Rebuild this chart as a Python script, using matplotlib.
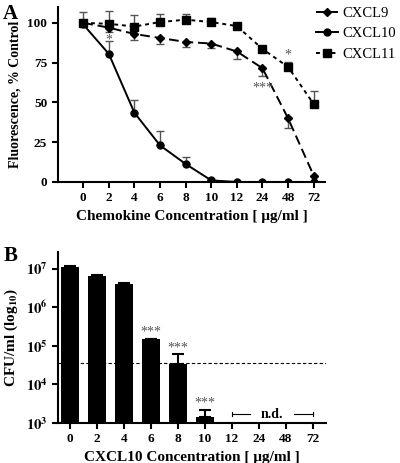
import matplotlib
matplotlib.use('Agg')
import matplotlib.pyplot as plt
import numpy as np

# panel A: fluorescence vs chemokine concentration
conc_labels = ['0', '2', '4', '6', '8', '10', '12', '24', '48', '72']
cxcl9 = [100, 97, 93, 90.5, 88, 87, 82, 71.5, 40, 4]
cxcl9_err = [0, 3, 3.7, 3.5, 3, 3, 5, 5, 6, 0]
cxcl10 = [99, 80.5, 43.5, 23, 11.3, 1, 0, 0, 0, 0]
cxcl10_err = [2, 8, 8, 9, 4.7, 0, 0, 0, 0, 0]
cxcl11 = [100, 99.4, 97.7, 100.5, 102, 100.5, 98, 83.6, 72.3, 49]
cxcl11_err = [7, 8, 7, 5, 3.5, 2.5, 1.5, 0, 3.2, 8]

# panel B: CFU/ml vs CXCL10 concentration
cfu = [1.13e7, 6.6e6, 4.1e6, 1.5e5, 3.3e4, 1.4e3, 0, 0, 0, 0]
cfu_err = [3e5, 2e5, 1e5, 0, 2.7e4, 8e2, 0, 0, 0, 0]
detect_limit = 3.5e4

plt.rcParams['font.family'] = ['Liberation Serif', 'DejaVu Serif']
plt.rcParams['mathtext.fontset'] = 'stix'

fig = plt.figure(figsize=(4, 4.63), dpi=100)
ax1 = fig.add_axes([0.144, 0.607, 0.669, 0.378])
ax2 = fig.add_axes([0.145, 0.0864, 0.67, 0.37])

x = np.arange(len(conc_labels))
errc = '#555555'

# error bars (one-sided)
ax1.errorbar(x, cxcl9, yerr=[cxcl9_err, np.zeros(len(x))], fmt='none',
             ecolor=errc, elinewidth=1, capsize=3, capthick=1)
ax1.errorbar(x, cxcl10, yerr=[np.zeros(len(x)), cxcl10_err], fmt='none',
             ecolor=errc, elinewidth=1, capsize=3, capthick=1)
ax1.errorbar(x, cxcl11, yerr=[np.zeros(len(x)), cxcl11_err], fmt='none',
             ecolor=errc, elinewidth=1, capsize=3, capthick=1)

ax1.plot(x, cxcl9, color='black', ls=(0, (5, 2.5)), lw=1.4, marker='D', ms=4, label='CXCL9')
ax1.plot(x, cxcl10, color='black', ls='-', lw=1.4, marker='o', ms=5, label='CXCL10')
ax1.plot(x, cxcl11, color='black', ls=(0, (2, 2)), lw=1.4, marker='s', ms=5.5, label='CXCL11')

ax1.text(1, 89, '*', ha='center', va='center', color=errc, fontsize=10)
ax1.text(7, 59, '***', ha='center', va='center', color=errc, fontsize=10)
ax1.text(8, 80, '*', ha='center', va='center', color=errc, fontsize=10)

ax1.set_xlim(-1.0, 9.45)
ax1.set_ylim(0, 110)
ax1.set_xticks(x)
ax1.set_xticklabels(conc_labels)
ax1.set_yticks([0, 25, 50, 75, 100])
ax1.set_ylabel('Fluorescence, % Control', fontsize=10, fontweight='bold')
ax1.set_xlabel('Chemokine Concentration [ μg/ml ]', fontsize=11, fontweight='bold', labelpad=4)
ax1.legend(loc='upper left', bbox_to_anchor=(0.79, 0.986), bbox_transform=fig.transFigure,
           frameon=False, fontsize=10.5, handlelength=1.5, handletextpad=0.3,
           labelspacing=0.5, borderaxespad=0, borderpad=0)

# panel B bars
ax2.axhline(detect_limit, color='black', ls=(0, (3, 2)), lw=0.8, zorder=1)
ax2.bar(x, cfu, width=0.67, color='black', zorder=2,
        yerr=[np.zeros(len(x)), cfu_err], error_kw=dict(ecolor='black', elinewidth=1.5, capsize=4, capthick=1.5))
ax2.set_yscale('log')
ax2.set_ylim(1e3, 10 ** 7.44)
ax2.set_xlim(-0.45, 9.5)
ax2.set_xticks(x)
ax2.set_xticklabels(conc_labels)
ax2.set_yticks([1e3, 1e4, 1e5, 1e6, 1e7])
ax2.set_yticklabels([r'$\mathbf{10^{%d}}$' % e for e in range(3, 8)])
ax2.minorticks_off()
ax2.set_ylabel(r'CFU/ml (log$_{\mathbf{10}}$)', fontsize=11, fontweight='bold')
ax2.set_xlabel('CXCL10 Concentration [ μg/ml ]', fontsize=11, fontweight='bold', labelpad=4)

for xi, yi in [(3, 10 ** 5.36), (4, 10 ** 4.95), (5, 10 ** 3.52)]:
    ax2.text(xi, yi, '***', ha='center', va='center', color=errc, fontsize=10)

# n.d. bracket
nd_y = 10 ** 3.23
ax2.plot([6, 6.67], [nd_y, nd_y], color='black', lw=0.8)
ax2.plot([8.33, 9], [nd_y, nd_y], color='black', lw=0.8)
for xe in [6, 9]:
    ax2.plot([xe, xe], [nd_y / 1.12, nd_y * 1.12], color='black', lw=0.8)
ax2.text(7.5, nd_y, 'n.d.', ha='center', va='center', fontsize=10, fontweight='bold')

for ax in (ax1, ax2):
    ax.spines['top'].set_visible(False)
    ax.spines['right'].set_visible(False)
    ax.spines['left'].set_linewidth(1.5)
    ax.spines['bottom'].set_linewidth(1.5)
    ax.tick_params(width=1.5, length=4, labelsize=9.5)
    for lbl in ax.get_xticklabels() + ax.get_yticklabels():
        lbl.set_fontweight('bold')
ax2.tick_params(axis='y', labelsize=10.5)

fig.text(0.008, 0.992, 'A', fontsize=15, fontweight='bold', va='top')
fig.text(0.008, 0.468, 'B', fontsize=15, fontweight='bold', va='top')

fig.savefig('out.png', dpi=100)
